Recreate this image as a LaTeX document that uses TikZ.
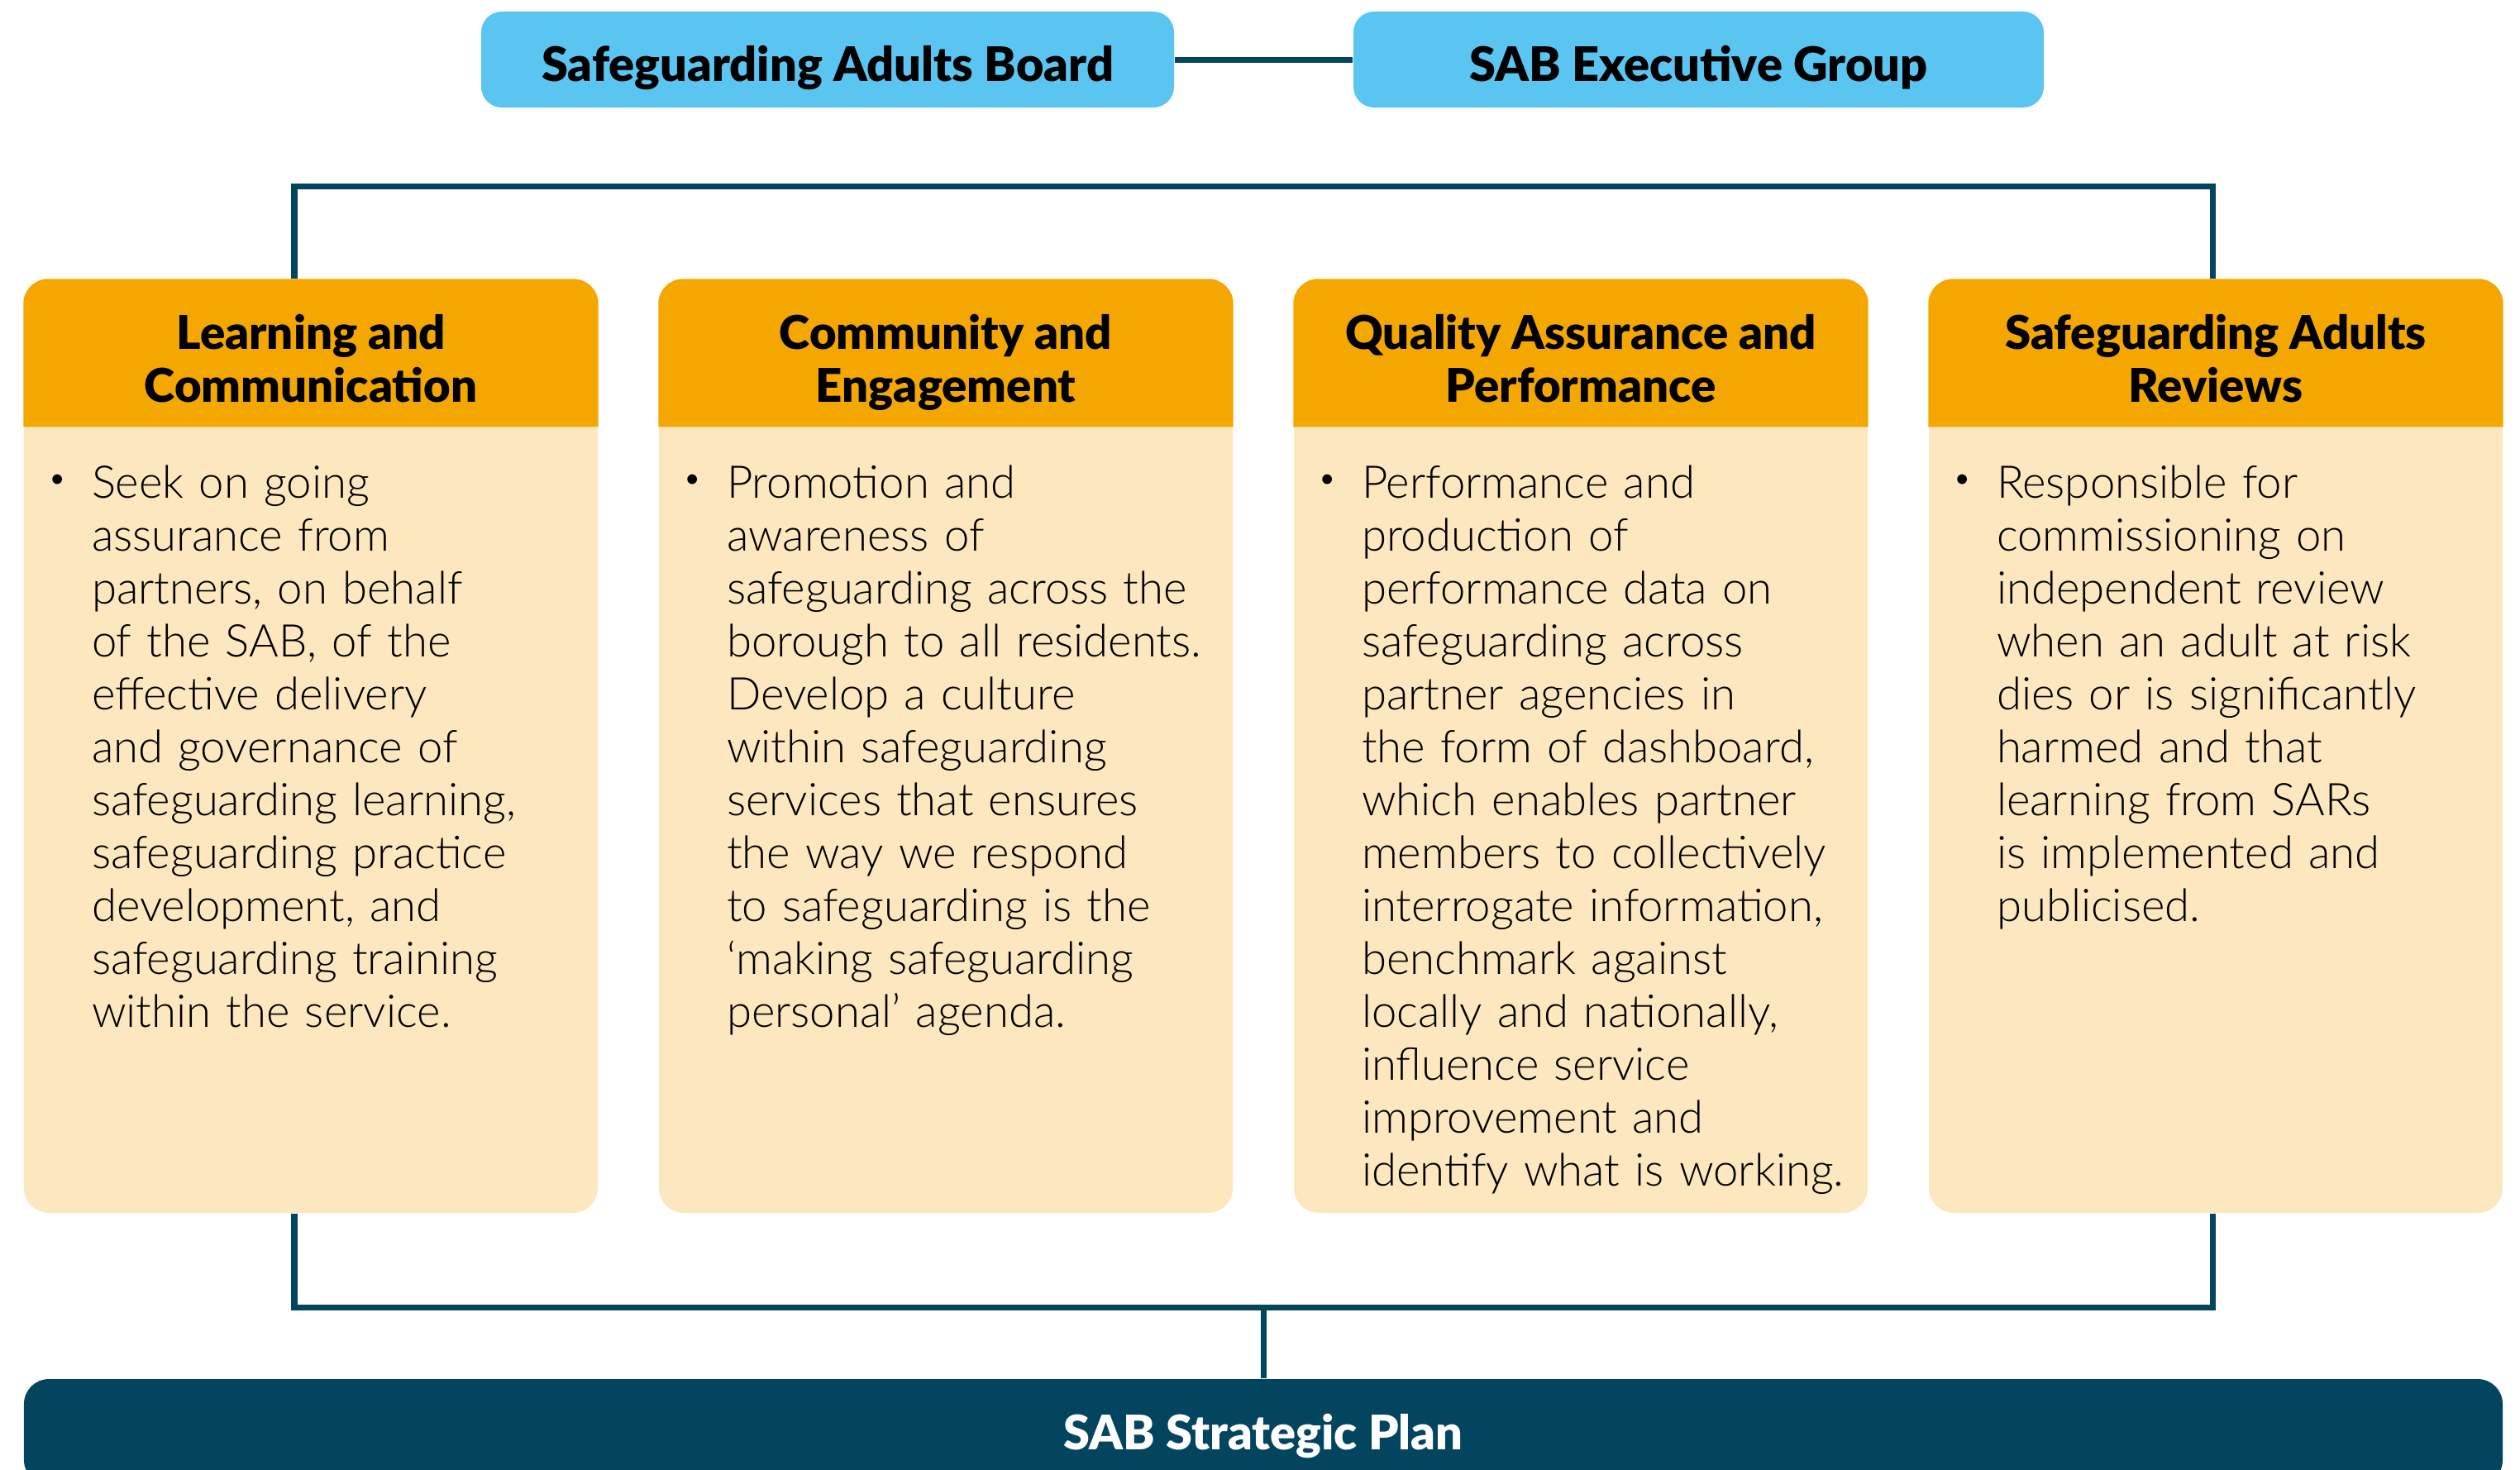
\documentclass[tikz,border=0pt]{standalone}
\usepackage{fontspec}
\setmainfont{Lato}
\newfontfamily\heavyfont{Lato Black}
\newfontfamily\lightfont{Lato Light}
\usetikzlibrary{positioning}
\definecolor{sabblue}{HTML}{5BC5F2}
\definecolor{saborange}{HTML}{F4A700}
\definecolor{sabcream}{HTML}{FCE7BF}
\definecolor{sabnavy}{HTML}{03455F}
\begin{document}
\begin{tikzpicture}[
        topbox/.style={fill=sabblue, rounded corners=0.25cm, minimum height=1.16cm, inner sep=0pt, text height=15pt, text depth=0pt, font=\heavyfont\fontsize{16.4}{18}\selectfont},
        colbox/.style={fill=sabcream, rounded corners=0.3cm, minimum width=6.94cm, minimum height=11.29cm, inner sep=0pt},
        headfill/.style={fill=saborange},
        headtext/.style={anchor=north, align=center, inner sep=0pt, font=\heavyfont\fontsize{16}{18.2}\selectfont},
        dot/.style={inner sep=0pt, font=\fontsize{9}{9}\selectfont},
        bodytext/.style={anchor=north west, align=left, inner sep=0pt, text width=6.4cm, font=\lightfont\fontsize{15.5}{18.2}\selectfont},
        planbox/.style={fill=sabnavy, text=white, rounded corners=0.3cm, minimum width=29.98cm, minimum height=1.28cm, inner sep=0pt, text depth=0pt, font=\heavyfont\fontsize{16.4}{18}\selectfont},
        link/.style={draw=sabnavy, line width=2pt}
    ]
        \useasboundingbox (0,0) rectangle (30.48,-17.77);
        \clip (0,0) rectangle (30.48,-17.77);

        \node[topbox, minimum width=8.38cm] (board) at (10.01,-0.72) {Safeguarding Adults Board};
        \node[topbox, minimum width=8.35cm] (exec) at (20.545,-0.72) {SAB Executive Group};

        \node[colbox] (lc) at (3.76,-9.025) {};
        \node[colbox] (ce) at (11.44,-9.025) {};
        \node[colbox] (qa) at (19.12,-9.025) {};
        \node[colbox] (sr) at (26.80,-9.025) {};

        \fill[headfill] ([yshift=-1.79cm]lc.north west) [rounded corners=0.3cm] -- (lc.north west) -- (lc.north east) [sharp corners] -- ([yshift=-1.79cm]lc.north east) -- cycle;
        \fill[headfill] ([yshift=-1.79cm]ce.north west) [rounded corners=0.3cm] -- (ce.north west) -- (ce.north east) [sharp corners] -- ([yshift=-1.79cm]ce.north east) -- cycle;
        \fill[headfill] ([yshift=-1.79cm]qa.north west) [rounded corners=0.3cm] -- (qa.north west) -- (qa.north east) [sharp corners] -- ([yshift=-1.79cm]qa.north east) -- cycle;
        \fill[headfill] ([yshift=-1.79cm]sr.north west) [rounded corners=0.3cm] -- (sr.north west) -- (sr.north east) [sharp corners] -- ([yshift=-1.79cm]sr.north east) -- cycle;

        \node[headtext] (lchead) at ([yshift=-0.42cm]lc.north) {Learning and\\Communication};
        \node[headtext] (cehead) at ([yshift=-0.42cm]ce.north) {Community and\\Engagement};
        \node[headtext] (qahead) at ([yshift=-0.42cm]qa.north) {Quality Assurance and\\Performance};
        \node[headtext] (srhead) at ([yshift=-0.42cm]sr.north) {Safeguarding Adults\\Reviews};

        \node[dot] (lcdot) at ([xshift=0.41cm, yshift=-2.45cm]lc.north west) {•};
        \node[dot] (cedot) at ([xshift=0.41cm, yshift=-2.45cm]ce.north west) {•};
        \node[dot] (qadot) at ([xshift=0.41cm, yshift=-2.45cm]qa.north west) {•};
        \node[dot] (srdot) at ([xshift=0.41cm, yshift=-2.45cm]sr.north west) {•};

        \node[bodytext] (lctext) at ([xshift=0.82cm, yshift=-2.25cm]lc.north west) {Seek on going\\assurance from\\partners, on behalf\\of the SAB, of the\\effective delivery\\and governance of\\safeguarding learning,\\safeguarding practice\\development, and\\safeguarding training\\within the service.};
        \node[bodytext] (cetext) at ([xshift=0.82cm, yshift=-2.25cm]ce.north west) {Promotion and\\awareness of\\safeguarding across the\\borough to all residents.\\Develop a culture\\within safeguarding\\services that ensures\\the way we respond\\to safeguarding is the\\‘making safeguarding\\personal’ agenda.};
        \node[bodytext] (qatext) at ([xshift=0.82cm, yshift=-2.25cm]qa.north west) {Performance and\\production of\\performance data on\\safeguarding across\\partner agencies in\\the form of dashboard,\\which enables partner\\members to collectively\\interrogate information,\\benchmark against\\locally and nationally,\\influence service\\improvement and\\identify what is working.};
        \node[bodytext] (srtext) at ([xshift=0.82cm, yshift=-2.25cm]sr.north west) {Responsible for\\commissioning on\\independent review\\when an adult at risk\\dies or is significantly\\harmed and that\\learning from SARs\\is implemented and\\publicised.};

        \node[planbox] (plan) at (15.28,-17.32) {SAB Strategic Plan};

        \coordinate (topbar) at (15.16,-2.25);
        \coordinate (botbar) at (15.28,-15.81);

        \draw[link] (board) -- (exec);
        \draw[link] ([xshift=-0.2cm]lc.north) |- (topbar) -| ([xshift=-0.04cm]sr.north);
        \draw[link] ([xshift=-0.2cm]lc.south) |- (botbar) -| ([xshift=-0.04cm]sr.south);
        \draw[link] (botbar) -- (plan.north);
    \end{tikzpicture}
\end{document}
